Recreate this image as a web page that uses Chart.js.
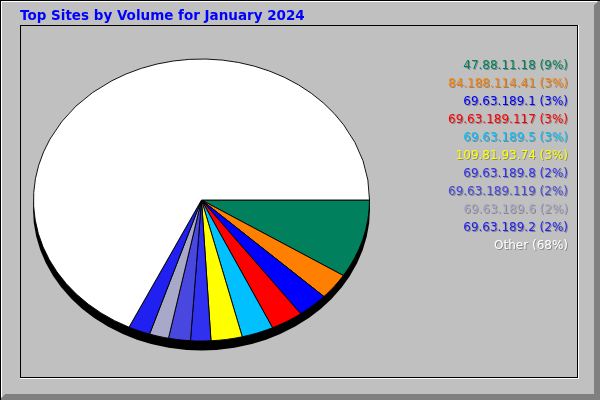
<!DOCTYPE html>
<html>
<head>
<meta charset="utf-8">
<script src="https://cdn.jsdelivr.net/npm/chart.js@4/dist/chart.umd.min.js"></script>
<style>
html, body { margin: 0; padding: 0; background: #C0C0C0; }
canvas { display: block; }
</style>
</head>
<body>
<canvas id="c" width="600" height="400"></canvas>
<script>
const titleText = 'Top Sites by Volume for January 2024';
const categories = ['47.88.11.18', '84.188.114.41', '69.63.189.1', '69.63.189.117', '69.63.189.5', '109.81.93.74', '69.63.189.8', '69.63.189.119', '69.63.189.6', '69.63.189.2', 'Other'];
const volumeShare = [9.0, 3.0, 2.95, 3.1, 3.05, 3.0, 1.95, 2.1, 1.85, 2.1, 67.9];
const sliceColors = ['#00805C', '#FF8000', '#0000FF', '#FF0000', '#00C0FF', '#FFFF00', '#3030F0', '#4848E0', '#A8A8C8', '#2020F0', '#FFFFFF'];

const Y_SCALE = 141 / 168;
const SHADOW = 9;

const framePlugin = {
  id: 'frame',
  beforeDraw(chart) {
    const ctx = chart.ctx;
    ctx.save();
    ctx.fillStyle = '#C0C0C0';
    ctx.fillRect(0, 0, 600, 400);
    // outer bevel
    ctx.fillStyle = '#808080';
    ctx.beginPath();
    ctx.moveTo(600, 0); ctx.lineTo(600, 400); ctx.lineTo(0, 400);
    ctx.lineTo(5, 394); ctx.lineTo(594, 394); ctx.lineTo(594, 5);
    ctx.closePath(); ctx.fill();
    ctx.fillStyle = '#000000';
    ctx.fillRect(0, 0, 600, 1);
    ctx.fillRect(0, 0, 1, 400);
    ctx.fillStyle = '#FFFFFF';
    ctx.fillRect(1, 1, 596, 1);
    ctx.fillRect(1, 1, 1, 396);
    // inner panel
    ctx.fillStyle = '#000000';
    ctx.fillRect(20, 25, 558, 1);
    ctx.fillRect(20, 25, 1, 353);
    ctx.fillRect(577, 25, 1, 353);
    ctx.fillRect(20, 377, 558, 1);
    ctx.fillStyle = '#FFFFFF';
    ctx.fillRect(578, 25, 1, 354);
    ctx.fillRect(20, 378, 559, 1);
    // title
    ctx.font = 'bold 13.5px "DejaVu Sans"';
    ctx.fillStyle = '#0000FF';
    ctx.textAlign = 'left';
    ctx.textBaseline = 'alphabetic';
    ctx.fillText(titleText, 20, 19.5);
    ctx.restore();
  }
};

const ellipsePlugin = {
  id: 'ellipse',
  beforeDatasetsDraw(chart) {
    const ctx = chart.ctx;
    const arc = chart.getDatasetMeta(0).data[0];
    const cx = arc.x, cy = arc.y, r = arc.outerRadius + 0.5;
    ctx.save();
    ctx.fillStyle = '#000000';
    ctx.beginPath();
    ctx.ellipse(cx, cy + SHADOW, r, r * Y_SCALE, 0, 0, Math.PI * 2);
    ctx.fill();
    ctx.translate(cx, cy);
    ctx.scale(1, Y_SCALE);
    ctx.translate(-cx, -cy);
  },
  afterDatasetsDraw(chart) {
    const ctx = chart.ctx;
    ctx.restore();
    // legend
    ctx.save();
    ctx.font = '12px "DejaVu Sans"';
    ctx.textAlign = 'right';
    ctx.textBaseline = 'alphabetic';
    ctx.shadowColor = 'rgba(0,0,0,0.3)';
    ctx.shadowOffsetX = 1;
    ctx.shadowOffsetY = 1;
    ctx.shadowBlur = 0;
    const data = chart.data.datasets[0].data;
    const total = data.reduce((a, b) => a + b, 0);
    chart.data.labels.forEach((lab, i) => {
      const pct = Math.round(data[i] / total * 100);
      ctx.fillStyle = chart.data.datasets[0].backgroundColor[i];
      ctx.fillText(lab + ' (' + pct + '%)', 568, 68.5 + i * 18);
    });
    ctx.restore();
  }
};

new Chart(document.getElementById('c'), {
  type: 'pie',
  data: {
    labels: categories,
    datasets: [{
      data: volumeShare,
      backgroundColor: sliceColors,
      borderColor: '#000000',
      borderWidth: 1,
      borderJoinStyle: 'miter'
    }]
  },
  options: {
    responsive: false,
    animation: false,
    events: [],
    rotation: 90,
    radius: 168,
    layout: { padding: { left: 33, right: 230, top: 59, bottom: 59 } },
    plugins: {
      legend: { display: false },
      title: { display: false },
      tooltip: { enabled: false }
    }
  },
  plugins: [framePlugin, ellipsePlugin]
});
</script>
</body>
</html>
